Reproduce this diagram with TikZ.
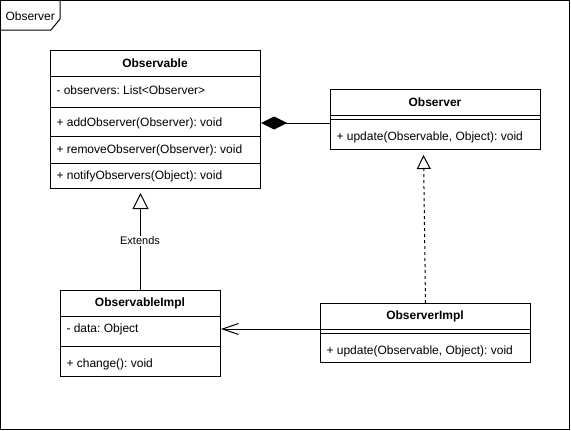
\documentclass[tikz,border=0pt]{standalone}
\usepackage{fontspec}
\setmainfont{Liberation Sans}
\usetikzlibrary{arrows.meta,calc}
\begin{document}
\frenchspacing
\begin{tikzpicture}[x=1pt,y=-1pt,line width=1pt,
  cls/.style={draw,anchor=north west,inner sep=0pt,fill=white},
  ttl/.style={font=\fontsize{12}{14}\selectfont\bfseries,inner sep=0pt},
  mem/.style={font=\fontsize{12}{14}\selectfont,anchor=west,inner sep=0pt},
  sep/.style={line width=1pt},
  composition/.style={-{Diamond[length=26pt,width=13pt]}},
  realization/.style={dash pattern=on 3pt off 3pt,-{Triangle[open,length=14pt,width=14pt]},shorten >=5pt},
  generalization/.style={-{Triangle[open,length=16pt,width=16pt]},shorten >=4pt},
  association/.style={-{Straight Barb[length=16pt,width=11pt]}},
  lbl/.style={font=\fontsize{11}{13}\selectfont,fill=white,inner sep=1pt}
]
\useasboundingbox (0,0) rectangle (571,431);
% frame
\coordinate (frameNW) at (0.5,0.5);
\coordinate (frameSE) at (569.5,429.5);
\draw (frameNW) rectangle (frameSE);
\draw (0.5,30) -- (51,30) -- (60,19) -- (60,0.5);
\node[mem] (frameT) at (5,16) {Observer};

% Observable
\node[cls,minimum width=210pt,minimum height=138pt] (observable) at (50,50) {};
\node[ttl] (observableT) at (155,63) {Observable};
\draw[sep] (50,76) -- (260,76);
\node[mem] (obsAttr) at (56,90) {- observers: List<Observer>};
\draw[sep] (50,107) -- (260,107);
\node[mem] (addO) at (56,123) {+ addObserver(Observer): void};
\draw[sep] (50,136) -- (260,136);
\node[mem] (remO) at (56,150) {+ removeObserver(Observer): void};
\draw[sep] (50,163) -- (260,163);
\node[mem] (notO) at (56,176) {+ notifyObservers(Object): void};

% Observer
\node[cls,minimum width=210pt,minimum height=60pt] (observer) at (330,89) {};
\node[ttl] (observerT) at (435,102) {Observer};
\draw[sep] (330,115) -- (540,115);
\draw[sep] (330,119) -- (540,119);
\node[mem] (updO) at (336,137) {+ update(Observable, Object): void};

% ObservableImpl
\node[cls,minimum width=160pt,minimum height=86pt] (oblImpl) at (60,290) {};
\node[ttl] (oblImplT) at (140,303) {ObservableImpl};
\draw[sep] (60,316) -- (220,316);
\node[mem] (dataA) at (66,329) {- data: Object};
\draw[sep] (60,346) -- (220,346);
\node[mem] (changeM) at (66,364) {+ change(): void};

% ObserverImpl
\node[cls,minimum width=210pt,minimum height=59pt] (obsImpl) at (320,303) {};
\node[ttl] (obsImplT) at (425,316) {ObserverImpl};
\draw[sep] (320,329) -- (530,329);
\draw[sep] (320,333) -- (530,333);
\node[mem] (updI) at (326,351) {+ update(Observable, Object): void};

% connectors
\draw[composition] (observer.west |- addO.center) -- (observable.east |- addO.center);
\draw[realization] (obsImpl.north) -- ($(observer.south)+(-12,0)$);
\draw[generalization] (oblImpl.north) -- (oblImpl.north |- observable.south);
\node[lbl] (extL) at (140,241) {Extends};
\draw[association] (obsImpl.west |- dataA.center) -- (oblImpl.east |- dataA.center);
\end{tikzpicture}
\end{document}
